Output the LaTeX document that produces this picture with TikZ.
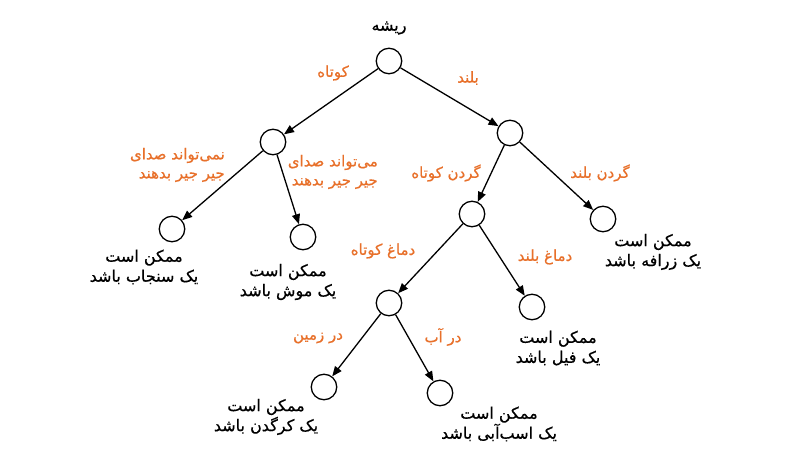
\documentclass[tikz,border=0pt]{standalone}
\usepackage{fontspec}
\TeXXeTstate=1
\newfontfamily\arabicfont[Script=Arabic,FakeBold=0.6]{DejaVu Sans}
\usetikzlibrary{arrows.meta}
\definecolor{lblorange}{HTML}{E8702A}
\newcommand{\pers}[1]{\beginR #1\endR}
\tikzset{
 vert/.style={circle, draw, line width=1.3pt, minimum size=25.5pt, inner sep=0pt},
 edge/.style={line width=1.3pt, -{Triangle[length=10pt,width=8pt]}},
 leaf/.style={font=\arabicfont\fontsize{16}{20}\selectfont, align=center, text=black, inner sep=0pt},
 lbl/.style={font=\arabicfont\fontsize{15}{19}\selectfont, text=lblorange, align=right, inner sep=0pt},
}
\begin{document}
\begin{tikzpicture}[x=1pt,y=-1pt]
\useasboundingbox[fill=white] (0,0) rectangle (800,457);
% vertices
\node[vert] (r) at (389,61) {};
\node[vert] (L) at (273,142) {};
\node[vert] (R) at (510,133) {};
\node[vert] (B) at (472,214) {};
\node[vert] (G) at (603,219) {};
\node[vert] (S) at (172,229) {};
\node[vert] (M) at (303,237) {};
\node[vert] (C) at (389,303) {};
\node[vert] (E) at (532,307) {};
\node[vert] (Rh) at (324,387) {};
\node[vert] (H) at (440,393) {};
% edges
\draw[edge] (r) -- (L);
\draw[edge] (r) -- (R);
\draw[edge] (L) -- (S);
\draw[edge] (L) -- (M);
\draw[edge] (R) -- (B);
\draw[edge] (R) -- (G);
\draw[edge] (B) -- (C);
\draw[edge] (B) -- (E);
\draw[edge] (C) -- (Rh);
\draw[edge] (C) -- (H);
% root label
\node[leaf] (rootlbl) at (389,28) {\pers{ریشه}};
% edge labels
\node[lbl] (l1) at (333,73) {\pers{کوتاه}};
\node[lbl] (l2) at (468,78) {\pers{بلند}};
\node[lbl, anchor=east] (l3) at (225,165) {\pers{نمی‌تواند صدای}\\\pers{جیر جیر بدهند}};
\node[lbl, anchor=east] (l4) at (378,172) {\pers{می‌تواند صدای}\\\pers{جیر جیر بدهند}};
\node[lbl] (l5) at (446,173) {\pers{گردن کوتاه}};
\node[lbl] (l6) at (600,173) {\pers{گردن بلند}};
\node[lbl] (l7) at (383,251) {\pers{دماغ کوتاه}};
\node[lbl] (l8) at (545,257) {\pers{دماغ بلند}};
\node[lbl] (l9) at (318,338) {\pers{در زمین}};
\node[lbl] (l10) at (443,337) {\pers{در آب}};
% leaf texts
\node[leaf] (tS) at (144,267) {\pers{ممکن است}\\\pers{یک سنجاب باشد}};
\node[leaf] (tM) at (288,282) {\pers{ممکن است}\\\pers{یک موش باشد}};
\node[leaf] (tG) at (653,252) {\pers{ممکن است}\\\pers{یک زرافه باشد}};
\node[leaf] (tE) at (558,348) {\pers{ممکن است}\\\pers{یک فیل باشد}};
\node[leaf] (tRh) at (266,417) {\pers{ممکن است}\\\pers{یک کرگدن باشد}};
\node[leaf] (tH) at (499,424) {\pers{ممکن است}\\\pers{یک اسب‌آبی باشد}};
\end{tikzpicture}
\end{document}
